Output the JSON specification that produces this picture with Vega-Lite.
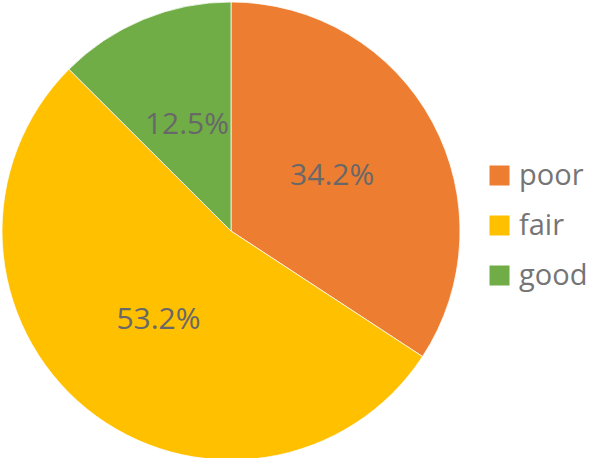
{
  "$schema": "https://vega.github.io/schema/vega-lite/v6.json",
  "width": 458,
  "height": 458,
  "padding": 0,
  "background": "white",
  "data": {
    "values": [
      {"category": "poor", "share": 34.2, "label": "34.2%", "rank": 1},
      {"category": "fair", "share": 53.2, "label": "53.2%", "rank": 2},
      {"category": "good", "share": 12.5, "label": "12.5%", "rank": 3}
    ]
  },
  "encoding": {
    "theta": {"field": "share", "type": "quantitative", "stack": true},
    "order": {"field": "rank", "type": "quantitative", "sort": "ascending"}
  },
  "layer": [
    {
      "mark": {"type": "arc", "outerRadius": 229, "stroke": "white", "strokeWidth": 0.75},
      "encoding": {
        "color": {
          "field": "category",
          "type": "nominal",
          "sort": ["poor", "fair", "good"],
          "scale": {"domain": ["poor", "fair", "good"], "range": ["#ED7D31", "#FFC000", "#70AD47"]},
          "legend": {
            "title": null,
            "orient": "none",
            "legendX": 483,
            "legendY": 159,
            "symbolType": "square",
            "symbolSize": 400,
            "symbolStrokeWidth": 0,
            "symbolOpacity": 1,
            "labelFont": "Open Sans",
            "labelFontSize": 29,
            "labelColor": "#757575",
            "labelOffset": 5,
            "rowPadding": 20,
            "padding": 0
          }
        }
      }
    },
    {
      "mark": {"type": "text", "radius": 115, "font": "Open Sans", "fontSize": 30, "color": "#686868", "align": "center", "baseline": "middle"},
      "encoding": {
        "text": {"field": "label", "type": "nominal"}
      }
    }
  ]
}
